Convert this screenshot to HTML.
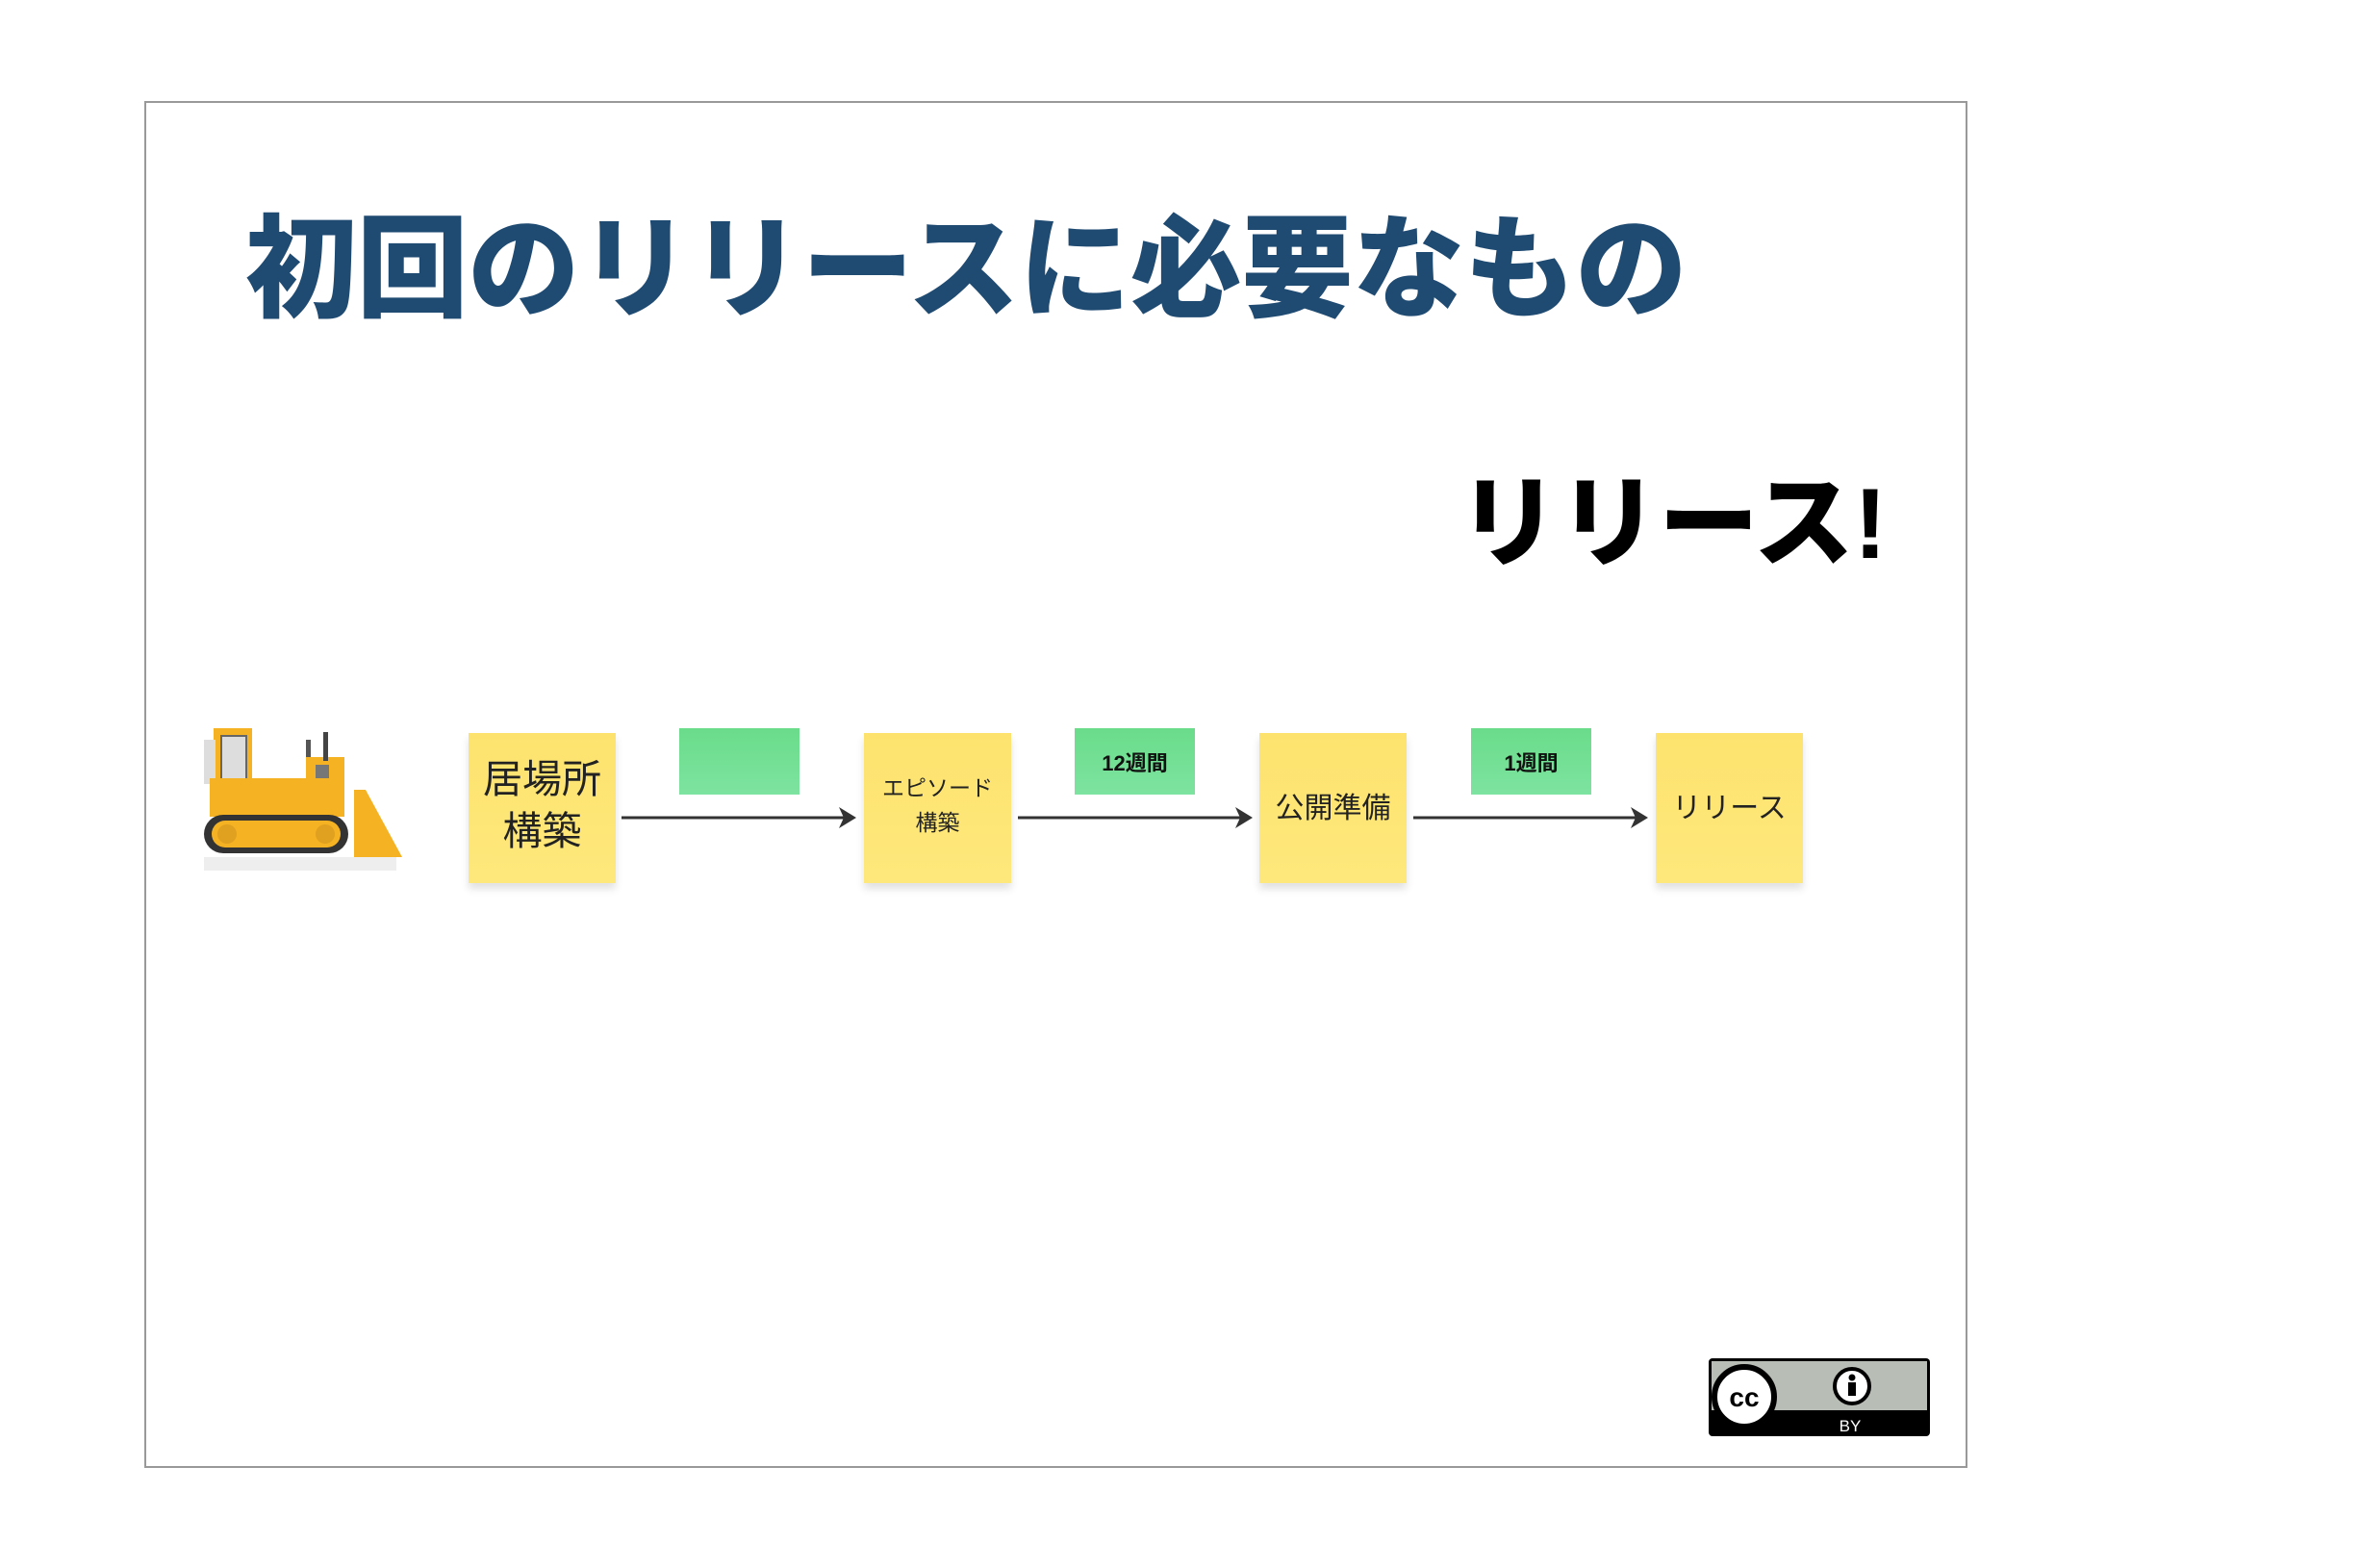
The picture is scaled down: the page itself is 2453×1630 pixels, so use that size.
<!DOCTYPE html>
<html><head><meta charset="utf-8"><style>
body{margin:0;width:2453px;height:1630px;background:#fff;position:relative;overflow:hidden;font-family:"Liberation Sans","Noto Sans CJK JP",sans-serif}
.a{position:absolute}
.frame{left:150px;top:105px;width:1891px;height:1417px;border:2px solid #999}
.title{left:255px;top:205px;font-size:116px;font-weight:900;color:#1f4a72;white-space:nowrap;line-height:150px;letter-spacing:-0.3px}
.rel{left:1516px;top:470px;font-size:104px;font-weight:900;color:#000;white-space:nowrap;line-height:150px}
.y{background:linear-gradient(#fde36e,#fee87c);box-shadow:0 6px 8px rgba(0,0,0,0.12);display:flex;align-items:center;justify-content:center;text-align:center;color:#222;top:762px;width:153px;height:150px;padding-bottom:6px}
.g{background:linear-gradient(#6adc8a,#7de3a0);display:flex;align-items:center;justify-content:center;font-weight:bold;font-size:22px;color:#111;top:757px;width:125px;height:69px}
</style></head><body>
<div class="a frame"></div>
<div class="a title">初回のリリースに必要なもの</div>
<div class="a rel">リリース!</div>

<svg class="a" style="left:208px;top:751px" width="214" height="156" viewBox="0 0 214 156">
<rect x="14" y="6" width="40" height="80" fill="#f5b324"/>
<rect x="22" y="14" width="26" height="64" fill="#ddd" stroke="#666" stroke-width="2"/>
<rect x="4" y="18" width="12" height="46" fill="#ddd"/>
<rect x="10" y="58" width="140" height="40" fill="#f5b324"/>
<rect x="110" y="36" width="40" height="30" fill="#f5b324"/>
<rect x="120" y="44" width="14" height="14" fill="#777"/>
<rect x="128" y="10" width="5" height="30" fill="#444"/>
<rect x="110" y="18" width="5" height="18" fill="#555"/>
<rect x="4" y="96" width="150" height="40" rx="20" fill="#333"/>
<rect x="12" y="102" width="134" height="28" rx="14" fill="#f5b324"/>
<circle cx="28" cy="116" r="10" fill="#e0a020"/><circle cx="130" cy="116" r="10" fill="#e0a020"/>
<polygon points="160,70 172,70 210,140 160,140" fill="#f5b324"/>
<rect x="4" y="140" width="200" height="14" fill="#eee"/>
</svg>

<div class="a y" style="left:487px;font-size:41px;line-height:54px">居場所<br>構築</div>
<div class="a y" style="left:898px;font-size:23px;line-height:36px">エピソード<br>構築</div>
<div class="a y" style="left:1309px;font-size:30px">公開準備</div>
<div class="a y" style="left:1721px;font-size:30px">リリース</div>

<div class="a g" style="left:706px"></div>
<div class="a g" style="left:1117px">12週間</div>
<div class="a g" style="left:1529px">1週間</div>

<svg class="a" style="left:0;top:0" width="2453" height="1630">
<g stroke="#333" stroke-width="3">
<line x1="646" y1="850" x2="880" y2="850"/>
<line x1="1058" y1="850" x2="1292" y2="850"/>
<line x1="1469" y1="850" x2="1703" y2="850"/>
</g>
<g fill="#333">
<polygon points="872,839 890,850 872,861 877,850"/>
<polygon points="1284,839 1302,850 1284,861 1289,850"/>
<polygon points="1695,839 1713,850 1695,861 1700,850"/>
</g>
<g>
<rect x="1776" y="1412" width="230" height="81" rx="4" fill="#000"/>
<rect x="1779" y="1415" width="224" height="51" fill="#b8bdb6"/>
<circle cx="1813" cy="1452" r="31" fill="#fff" stroke="#000" stroke-width="6"/>
<text x="1813" y="1462" font-family="Liberation Sans" font-weight="bold" font-size="28" text-anchor="middle">cc</text>
<circle cx="1925" cy="1441" r="18" fill="#fff" stroke="#000" stroke-width="4"/>
<circle cx="1925" cy="1432" r="3.5" fill="#000"/><rect x="1921" y="1437" width="8" height="14" fill="#000"/>
<text x="1923" y="1488" font-family="Liberation Sans" font-size="17" fill="#fff" text-anchor="middle">BY</text>
</g>
</svg>
</body></html>
